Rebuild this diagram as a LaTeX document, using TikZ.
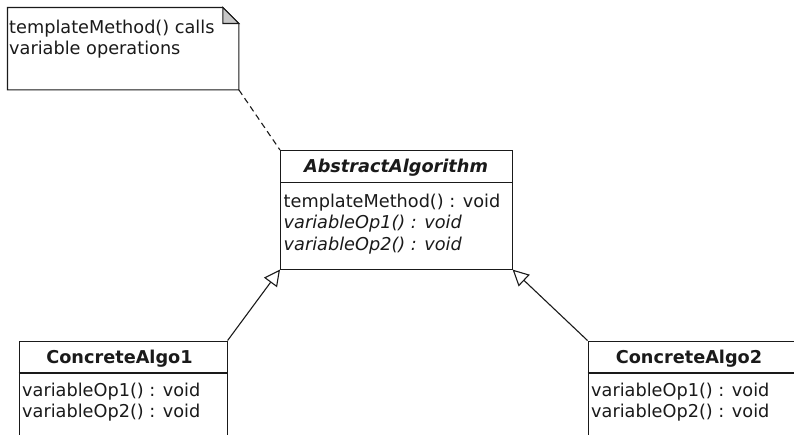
\documentclass[tikz,border=0pt]{standalone}
\usepackage{fontspec}
\setmainfont{DejaVu Sans}
\usetikzlibrary{arrows.meta}

\definecolor{ink}{HTML}{1A1A1A}
\definecolor{foldgray}{HTML}{C8C8C8}
\newcommand\umltext{\fontsize{17.7}{21}\selectfont}

\tikzset{
  umlbox/.style={draw=ink, line width=1.1pt, fill=white, rectangle, inner sep=0pt, anchor=north west},
  member/.style={anchor=base west, inner sep=0pt, text=ink, font=\umltext},
  abstractmember/.style={member, font=\umltext\itshape},
  classname/.style={anchor=base, inner sep=0pt, text=ink, font=\umltext\bfseries},
  abstractname/.style={classname, font=\umltext\bfseries\itshape},
  inherit/.style={draw=ink, line width=1.1pt, -{Triangle[open, length=16pt, width=16pt, fill=white]}},
  notelink/.style={draw=ink, line width=1.1pt, dash pattern=on 6pt off 4pt},
}

\begin{document}
\begin{tikzpicture}[x=1pt, y=-1pt]
\useasboundingbox (0,0) rectangle (794,434);
\clip (0,0) rectangle (794,434);

% note with a folded corner
\node[inner sep=0pt, minimum width=231pt, minimum height=82pt, anchor=north west] (note) at (7.5,7.5) {};
\draw[ink, line width=1.1pt, fill=white]
  (note.north west) -- ([xshift=-16pt]note.north east) -- ([yshift=-16pt]note.north east)
  -- (note.south east) -- (note.south west) -- cycle;
\draw[ink, line width=1.1pt, fill=foldgray]
  ([xshift=-16pt]note.north east) -- ([xshift=-16pt,yshift=-16pt]note.north east)
  -- ([yshift=-16pt]note.north east) -- cycle;
\node[member] (notel1) at (9,33) {templateMethod() calls};
\node[member] (notel2) at (9,54) {variable operations};

% abstract class
\node[umlbox, minimum width=231.5pt, minimum height=118.5pt] (abs) at (280,150) {};
\draw[ink, line width=1.1pt] ([yshift=-32.5pt]abs.north west) -- ([yshift=-32.5pt]abs.north east);
\node[abstractname] (absname) at (396,172) {AbstractAlgorithm};
\node[member] (absm1) at (283.5,207) {templateMethod() : void};
\node[abstractmember] (absm2) at (283.5,228.5) {variableOp1() : void};
\node[abstractmember] (absm3) at (283.5,250) {variableOp2() : void};

% concrete class 1
\node[umlbox, minimum width=208pt, minimum height=140pt] (c1) at (18.5,340.5) {};
\draw[ink, line width=1.1pt] ([yshift=-32.5pt]c1.north west) -- ([yshift=-32.5pt]c1.north east);
\node[classname] (c1name) at (119.5,363) {ConcreteAlgo1};
\node[member] (c1m1) at (22,396) {variableOp1() : void};
\node[member] (c1m2) at (22,417) {variableOp2() : void};

% concrete class 2
\node[umlbox, minimum width=208pt, minimum height=140pt] (c2) at (587.5,340.5) {};
\draw[ink, line width=1.1pt] ([yshift=-32.5pt]c2.north west) -- ([yshift=-32.5pt]c2.north east);
\node[classname] (c2name) at (689,363) {ConcreteAlgo2};
\node[member] (c2m1) at (591,396) {variableOp1() : void};
\node[member] (c2m2) at (591,417) {variableOp2() : void};

% relations
\draw[notelink] (note.south east) -- (abs.north west);
\draw[inherit] (c1.north east) -- (abs.south west);
\draw[inherit] (c2.north west) -- (abs.south east);
\end{tikzpicture}
\end{document}
